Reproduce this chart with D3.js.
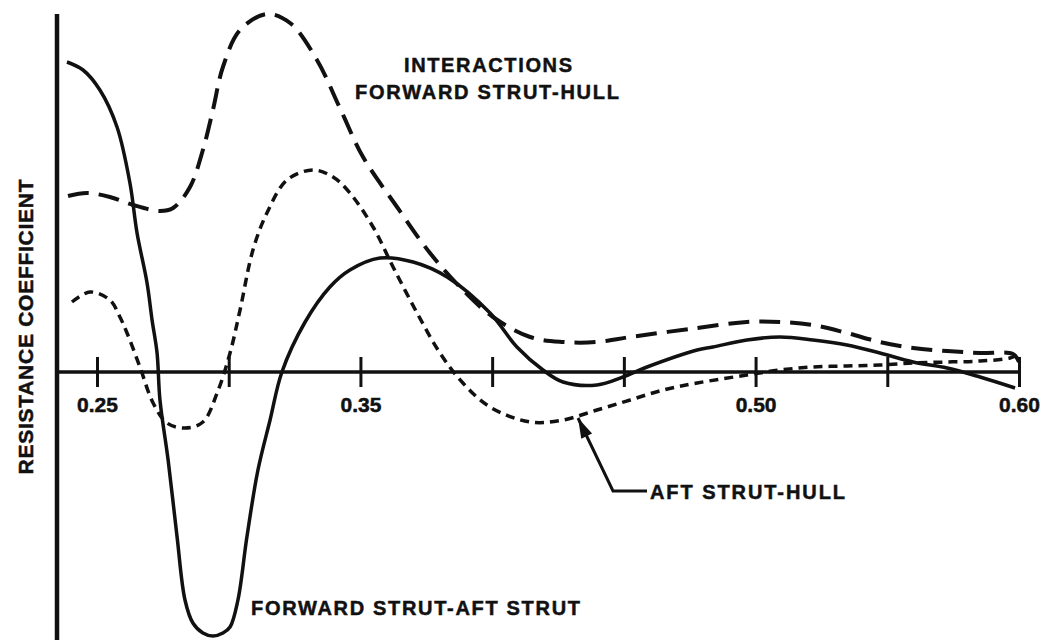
<!DOCTYPE html>
<html>
<head>
<meta charset="utf-8">
<script src="https://cdn.jsdelivr.net/npm/d3@7"></script>
<style>
  body { margin: 0; background: #fff; }
  text { font-family: "Liberation Sans", Arial, sans-serif; font-weight: bold; fill: #111; stroke: #111; stroke-width: 0.5px; }
</style>
</head>
<body>
<div id="chart"></div>
<script>
"use strict";
//resistance coefficient interactions vs speed

//Chart size
var svgWidth = 1048;
var svgHeight = 640;

//Tick marks on the speed axis, only some carry a label
var tickValues = [0.25, 0.30, 0.35, 0.40, 0.45, 0.50, 0.55, 0.60];
var tickLabels = ["0.25", "", "0.35", "", "", "0.50", "", "0.60"];

//Forward strut - aft strut (solid)
var fwdAftX = [0.2386, 0.2447, 0.2511, 0.2576, 0.2625, 0.2652, 0.2690, 0.2709, 0.2728, 0.2739,
               0.2770, 0.2804, 0.2834, 0.2864, 0.2902, 0.2940, 0.2978, 0.3005, 0.3035, 0.3069,
               0.3111, 0.3157, 0.3202, 0.3290, 0.3384, 0.3460, 0.3574, 0.3700, 0.3829, 0.3992,
               0.4094, 0.4193, 0.4269, 0.4398, 0.4497, 0.4588, 0.4778, 0.4838, 0.4967, 0.5093,
               0.5218, 0.5347, 0.5472, 0.5598, 0.5727, 0.5852, 0.5985];
var fwdAftY = [1.55, 1.51, 1.41, 1.225, 0.945, 0.695, 0.445, 0.26, 0.095, -0.14,
               -0.44, -0.825, -1.14, -1.255, -1.305, -1.32, -1.305, -1.275, -1.14, -0.825,
               -0.49, -0.24, 0, 0.25, 0.425, 0.51, 0.57, 0.55, 0.475, 0.295,
               0.125, 0.01, -0.05, -0.065, -0.025, 0.025, 0.11, 0.125, 0.16, 0.175,
               0.16, 0.135, 0.095, 0.05, 0.02, -0.025, -0.08];

//Forward strut - hull (long dashes)
var fwdHullX = [0.2390, 0.2462, 0.2549, 0.2637, 0.2739, 0.2789, 0.2853, 0.2902, 0.2940, 0.2978,
                0.3043, 0.3145, 0.3233, 0.3335, 0.3422, 0.3510, 0.3639, 0.3764, 0.3889, 0.4003,
                0.4144, 0.4269, 0.4398, 0.4524, 0.4778, 0.4967, 0.5093, 0.5218, 0.5347, 0.5472,
                0.5598, 0.5727, 0.5852, 0.5977, 0.6000];
var fwdHullY = [0.88, 0.895, 0.875, 0.835, 0.805, 0.82, 0.925, 1.11, 1.31, 1.525,
                1.71, 1.79, 1.745, 1.56, 1.32, 1.075, 0.825, 0.595, 0.41, 0.275,
                0.175, 0.15, 0.15, 0.175, 0.22, 0.25, 0.25, 0.235, 0.195, 0.15,
                0.12, 0.105, 0.095, 0.09, 0.05];

//Aft strut - hull (short dashes)
var aftHullX = [0.2405, 0.2473, 0.2549, 0.2587, 0.2614, 0.2663, 0.2713, 0.2766, 0.2834, 0.2902,
                0.2956, 0.3005, 0.3043, 0.3092, 0.3145, 0.3221, 0.3320, 0.3396, 0.3460, 0.3548,
                0.3624, 0.3715, 0.3802, 0.3889, 0.3992, 0.4144, 0.4269, 0.4398, 0.4524, 0.4649,
                0.4778, 0.4967, 0.5093, 0.5218, 0.5347, 0.5472, 0.5598, 0.5727, 0.5852, 0.5966,
                0.6000];
var aftHullY = [0.35, 0.40, 0.36, 0.275, 0.195, 0.025, -0.155, -0.255, -0.28, -0.25,
                -0.105, 0.095, 0.31, 0.61, 0.795, 0.96, 1.01, 0.975, 0.895, 0.725,
                0.525, 0.295, 0.095, -0.055, -0.175, -0.25, -0.24, -0.19, -0.14, -0.09,
                -0.055, -0.015, 0.01, 0.025, 0.03, 0.035, 0.045, 0.05, 0.055, 0.07,
                0.09];

var svg = d3.select("#chart")
            .append("svg")
            .attr("width", svgWidth)
            .attr("height", svgHeight);

var x = d3.scaleLinear().domain([0.25, 0.60]).range([97, 1019]);
var y = d3.scaleLinear().domain([0, 1]).range([372, 172]);

function zip(xs, ys){
    return xs.map(function(v, i){ return [v, ys[i]]; });
}

var line = d3.line()
    .x(function(d){ return x(d[0]); })
    .y(function(d){ return y(d[1]); })
    .curve(d3.curveCatmullRom.alpha(0.5));

//Vertical axis (no ticks)
svg.append("line")
    .attr("x1", 57).attr("x2", 57)
    .attr("y1", 14).attr("y2", svgHeight)
    .attr("stroke", "#111").attr("stroke-width", 4.5);

//Horizontal axis at zero
var xAxis = d3.axisBottom(x)
    .tickValues(tickValues)
    .tickSize(15)
    .tickFormat(function(d, i){ return tickLabels[i]; });

var gx = svg.append("g")
    .attr("transform", "translate(0," + y(0) + ")")
    .call(xAxis);
gx.select(".domain").remove();
gx.append("line")
    .attr("x1", 57).attr("x2", x(0.60))
    .attr("stroke", "#111").attr("stroke-width", 3.5);
gx.selectAll(".tick line")
    .attr("y1", -15).attr("y2", 15)
    .attr("stroke", "#111").attr("stroke-width", 3);
gx.selectAll(".tick text")
    .attr("y", 40).attr("dy", null)
    .style("font-size", "21px")
    .attr("fill", "#111");

//The three curves
svg.append("path")
    .datum(zip(fwdAftX, fwdAftY))
    .attr("d", line)
    .attr("fill", "none").attr("stroke", "#111")
    .attr("stroke-width", 3.5);

svg.append("path")
    .datum(zip(fwdHullX, fwdHullY))
    .attr("d", line)
    .attr("fill", "none").attr("stroke", "#111")
    .attr("stroke-width", 4)
    .attr("stroke-dasharray", "21,10");

svg.append("path")
    .datum(zip(aftHullX, aftHullY))
    .attr("d", line)
    .attr("fill", "none").attr("stroke", "#111")
    .attr("stroke-width", 3.5)
    .attr("stroke-dasharray", "9,6");

//Axis title
svg.append("text")
    .attr("transform", "translate(33,327) rotate(-90)")
    .attr("text-anchor", "middle")
    .attr("textLength", 295).attr("lengthAdjust", "spacing")
    .style("font-size", "21px")
    .text("RESISTANCE COEFFICIENT");

//Curve labels
function label(txt, px, py, len){
    svg.append("text")
        .attr("x", px).attr("y", py)
        .attr("textLength", len).attr("lengthAdjust", "spacing")
        .style("font-size", "20px")
        .text(txt);
}
label("INTERACTIONS", 404, 72, 168);
label("FORWARD STRUT-HULL", 355, 99, 264);
label("FORWARD STRUT-AFT STRUT", 251, 615, 329);
label("AFT STRUT-HULL", 650, 499, 195);

//Leader arrow for aft strut-hull
var tip = [x(0.4326), y(-0.23)];
var elbow = [613, 491];
svg.append("path")
    .attr("d", "M" + 647 + "," + elbow[1] + "H" + elbow[0] + "L" + tip[0] + "," + tip[1])
    .attr("fill", "none").attr("stroke", "#111").attr("stroke-width", 3);
var ang = Math.atan2(elbow[1] - tip[1], elbow[0] - tip[0]);
var hl = 20, hw = 6;
var bx = tip[0] + hl * Math.cos(ang), by = tip[1] + hl * Math.sin(ang);
svg.append("path")
    .attr("d", "M" + tip[0] + "," + tip[1] +
               "L" + (bx + hw * Math.sin(ang)) + "," + (by - hw * Math.cos(ang)) +
               "L" + (bx - hw * Math.sin(ang)) + "," + (by + hw * Math.cos(ang)) + "Z")
    .attr("fill", "#111");
</script>
</body>
</html>
